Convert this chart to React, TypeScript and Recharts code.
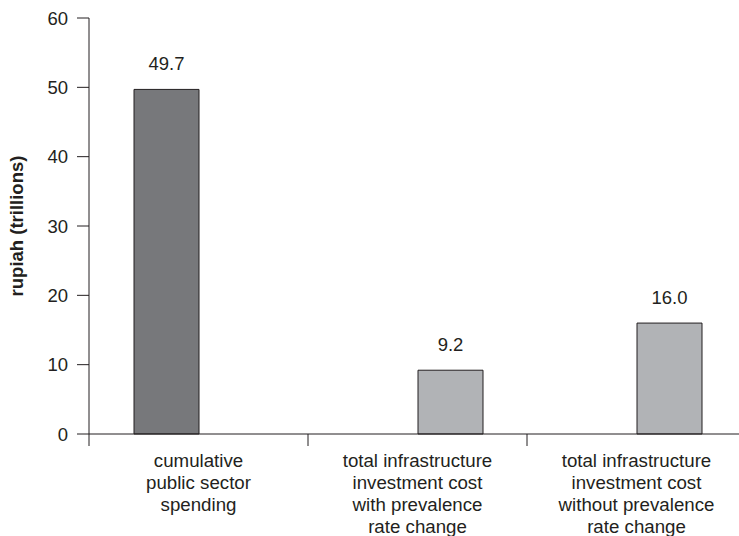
import { BarChart, Bar, XAxis, YAxis, LabelList } from "recharts";

const categories = ["spending", "withChange", "withoutChange"];

const categoryLines: string[][] = [
  ["cumulative", "public sector", "spending"],
  ["total infrastructure", "investment cost", "with prevalence", "rate change"],
  ["total infrastructure", "investment cost", "without prevalence", "rate change"],
];

const publicSpending: (number | null)[] = [49.7, null, null];
const infrastructureCost: (number | null)[] = [null, 9.2, 16.0];

const yTicks = [0, 10, 20, 30, 40, 50, 60];

const data = categories.map((name, i) => ({
  name,
  publicSpending: publicSpending[i],
  infrastructureCost: infrastructureCost[i],
}));

const INK = "#231f20";
const FONT = "'Liberation Sans', Arial, Helvetica, sans-serif";

const CategoryTick = (props: any) => {
  const { x, index } = props;
  const lines = categoryLines[index] || [];
  const half = 109.5;
  return (
    <g>
      <line x1={x - half} x2={x - half} y1={434} y2={446} stroke={INK} strokeWidth={1} />
      <text x={x} y={467} textAnchor="middle" fill={INK} fontSize={18.7} fontFamily={FONT}>
        {lines.map((l, i) => (
          <tspan key={i} x={x} dy={i === 0 ? 0 : 22}>
            {l}
          </tspan>
        ))}
      </text>
    </g>
  );
};

const ValueLabel = (props: any) => {
  const { x, y, width, value } = props;
  if (value === null || value === undefined) return null;
  return (
    <text
      x={x + width / 2}
      y={y - 19}
      textAnchor="middle"
      fill={INK}
      fontSize={18.5}
      fontFamily={FONT}
    >
      {Number(value).toFixed(1)}
    </text>
  );
};

export default function App() {
  return (
    <div
      style={{
        position: "absolute",
        left: 0,
        top: 0,
        width: 739,
        height: 536,
        overflow: "hidden",
        background: "#fff",
      }}
    >
      <BarChart
        width={760}
        height={536}
        data={data}
        margin={{ top: 18, right: 14, left: 0, bottom: 0 }}
        barSize={65}
        barGap={0}
      >
        <XAxis
          dataKey="name"
          height={102}
          axisLine={{ stroke: INK, strokeWidth: 1 }}
          tickLine={false}
          tick={<CategoryTick />}
          interval={0}
        />
        <YAxis
          width={89}
          domain={[0, 60]}
          ticks={yTicks}
          interval={0}
          tickSize={12}
          tickMargin={9}
          axisLine={{ stroke: INK, strokeWidth: 1 }}
          tickLine={{ stroke: INK, strokeWidth: 1 }}
          tick={{ fill: INK, fontSize: 18.5, fontFamily: FONT }}
          label={{
            value: "rupiah (trillions)",
            angle: -90,
            position: "insideLeft",
            offset: 16,
            style: {
              textAnchor: "middle",
              fontWeight: "bold",
              fontSize: 18.5,
              fontFamily: FONT,
              fill: INK,
            },
          }}
        />
        <Bar
          dataKey="publicSpending"
          fill="#77787b"
          stroke={INK}
          strokeWidth={1}
          isAnimationActive={false}
        >
          <LabelList dataKey="publicSpending" content={<ValueLabel />} />
        </Bar>
        <Bar
          dataKey="infrastructureCost"
          fill="#b1b3b6"
          stroke={INK}
          strokeWidth={1}
          isAnimationActive={false}
        >
          <LabelList dataKey="infrastructureCost" content={<ValueLabel />} />
        </Bar>
      </BarChart>
    </div>
  );
}
